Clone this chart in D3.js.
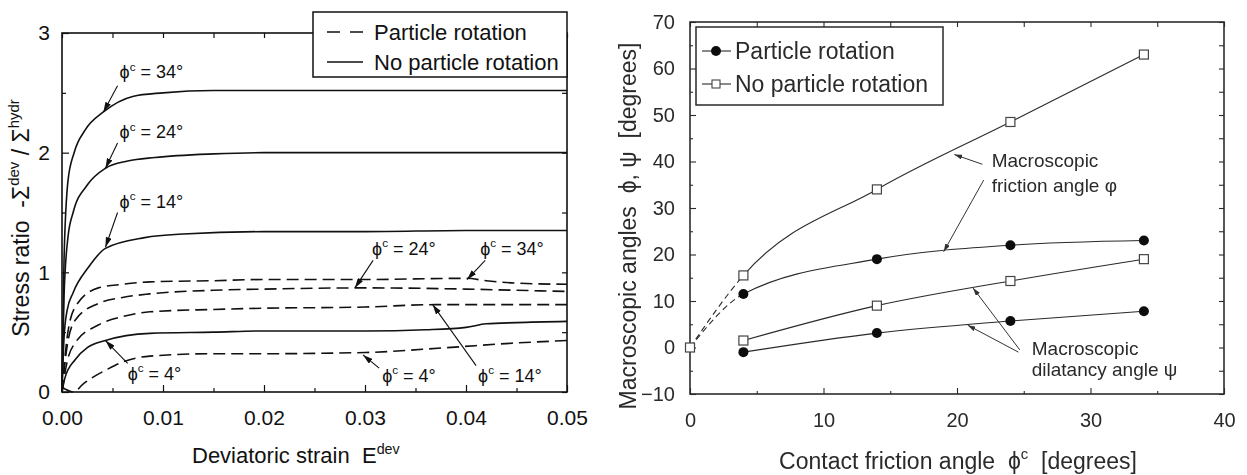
<!DOCTYPE html>
<html>
<head>
<meta charset="utf-8">
<script src="https://cdn.jsdelivr.net/npm/d3@7"></script>
<style>
  html, body { margin: 0; padding: 0; background: #fff; }
  svg { display: block; font-family: "Liberation Sans", Arial, Helvetica, sans-serif; }
  text { white-space: pre; }
</style>
</head>
<body>
<svg id="chart" width="1247" height="475"></svg>
<script>
// ===== Left panel: stress ratio vs deviatoric strain =====
const strainTicks = [0, 0.01, 0.02, 0.03, 0.04, 0.05];
const strainTickLabels = ["0.00", "0.01", "0.02", "0.03", "0.04", "0.05"];
const strainMinorTicks = [0.005, 0.015, 0.025, 0.035, 0.045];
const ratioTicks = [0, 1, 2, 3];
const ratioTickLabels = ["0", "1", "2", "3"];
const ratioMinorTicks = [0.5, 1.5, 2.5];

// No particle rotation (solid)
const solid34Strain = [0, 0.0002, 0.0006, 0.0012, 0.0023, 0.0041, 0.007, 0.01, 0.015, 0.02, 0.03, 0.04, 0.05];
const solid34Ratio  = [0, 1.10, 1.77, 2.00, 2.19, 2.34, 2.47, 2.50, 2.52, 2.52, 2.52, 2.52, 2.52];
const solid24Strain = [0, 0.0002, 0.0006, 0.0011, 0.0025, 0.0043, 0.0065, 0.0092, 0.015, 0.02, 0.03, 0.04, 0.05];
const solid24Ratio  = [0, 0.80, 1.30, 1.50, 1.73, 1.87, 1.93, 1.96, 1.99, 2.00, 2.00, 2.00, 2.00];
const solid14Strain = [0, 0.0002, 0.0005, 0.0011, 0.0026, 0.0043, 0.0082, 0.012, 0.02, 0.03, 0.04, 0.05];
const solid14Ratio  = [0, 0.45, 0.68, 0.83, 1.04, 1.20, 1.29, 1.32, 1.34, 1.34, 1.35, 1.35];
const solid4Strain  = [0, 0.0003, 0.0013, 0.0025, 0.0043, 0.0087, 0.015, 0.02, 0.03, 0.036, 0.04, 0.042, 0.045, 0.05];
const solid4Ratio   = [0, 0.12, 0.27, 0.37, 0.43, 0.49, 0.50, 0.51, 0.51, 0.52, 0.54, 0.57, 0.58, 0.59];

// Particle rotation (dashed)
const dashed34Strain = [0, 0.0005, 0.0013, 0.0036, 0.006, 0.0087, 0.015, 0.02, 0.03, 0.04, 0.042, 0.045, 0.05];
const dashed34Ratio  = [0, 0.45, 0.71, 0.87, 0.90, 0.92, 0.93, 0.94, 0.94, 0.95, 0.93, 0.91, 0.90];
const dashed24Strain = [0, 0.0005, 0.0013, 0.0036, 0.006, 0.0087, 0.015, 0.02, 0.03, 0.04, 0.045, 0.05];
const dashed24Ratio  = [0, 0.38, 0.60, 0.74, 0.79, 0.82, 0.85, 0.86, 0.87, 0.86, 0.85, 0.84];
const dashed14Strain = [0, 0.0005, 0.0013, 0.0036, 0.006, 0.0087, 0.015, 0.02, 0.03, 0.037, 0.04, 0.05];
const dashed14Ratio  = [0, 0.25, 0.41, 0.56, 0.63, 0.67, 0.69, 0.70, 0.71, 0.73, 0.73, 0.73];
const dashed4Strain  = [0, 0.0012, 0.002, 0.003, 0.0045, 0.006, 0.0087, 0.015, 0.02, 0.03, 0.038, 0.045, 0.05];
const dashed4Ratio   = [0.04, 0.0, 0.06, 0.12, 0.19, 0.25, 0.30, 0.32, 0.32, 0.33, 0.37, 0.41, 0.43];

// Curve labels: [degrees, strain, ratio] (baseline-left anchor)
const leftLabels = [
  ["34", 0.0057, 2.62], ["24", 0.0057, 2.12], ["14", 0.0057, 1.54], ["4", 0.0065, 0.10],
  ["24", 0.0307, 1.145], ["34", 0.0414, 1.145], ["4", 0.0317, 0.085], ["14", 0.0412, 0.085]
];
// Label arrows: [tailStrain, tailRatio, tipStrain, tipRatio]
const leftArrows = [
  [0.0055, 2.56, 0.0041, 2.34], [0.0055, 2.08, 0.0043, 1.87], [0.0055, 1.50, 0.0043, 1.21],
  [0.0065, 0.24, 0.0043, 0.43], [0.0308, 1.10, 0.0290, 0.87], [0.0419, 1.10, 0.0401, 0.94],
  [0.0314, 0.20, 0.0298, 0.31], [0.0410, 0.22, 0.0367, 0.73]
];

// ===== Right panel: macroscopic angles vs contact friction angle =====
const contactTicks = [0, 10, 20, 30, 40];
const contactMinorTicks = [5, 15, 25, 35];
const angleTicks = [-10, 0, 10, 20, 30, 40, 50, 60, 70];
const angleMinorTicks = [-5, 5, 15, 25, 35, 45, 55, 65];

const contactAngle = [0, 4, 14, 24, 34];
const frictionNoRot = [0, 15.5, 34, 48.5, 63];
const frictionRot   = [0, 11.5, 19, 22, 23];
const dilatancyAngle = [4, 14, 24, 34];
const dilatancyNoRot = [1.5, 9, 14.3, 19];
const dilatancyRot   = [-1, 3.1, 5.7, 7.8];

// Annotation text [line, contactAngle, angle]
const rightNotes = [
  ["Macroscopic", 22.6, 38.8], ["friction angle \u03c6", 22.6, 33.4],
  ["Macroscopic", 25.6, -1.6], ["dilatancy angle \u03c8", 25.6, -6.2]
];
// Annotation arrows [tailX, tailY, tipX, tipY]
const rightArrows = [
  [21.9, 39.4, 19.8, 41.5], [22.0, 36.0, 19.0, 20.6],
  [24.7, -0.5, 21.2, 12.8], [24.6, -1.0, 20.8, 4.8]
];

// ---------------------------------------------------------------
const svg = d3.select("#chart");
const defs = svg.append("defs");

function arrowMarker(id, color, len, wid) {
  defs.append("marker")
    .attr("id", id)
    .attr("viewBox", `0 0 ${len} ${wid}`)
    .attr("refX", len).attr("refY", wid / 2)
    .attr("markerWidth", len).attr("markerHeight", wid)
    .attr("markerUnits", "userSpaceOnUse")
    .attr("orient", "auto")
    .append("path")
    .attr("d", `M0,0L${len},${wid / 2}L0,${wid}Z`)
    .attr("fill", color);
}
arrowMarker("headL", "#111", 10, 6);
arrowMarker("headR", "#333", 8, 5);

// slight softening used on the right-hand figure
defs.append("filter").attr("id", "soft")
  .append("feGaussianBlur").attr("stdDeviation", 0.45);

// rich text helper: parts = [[string, "sup"|null], ...]
function rich(sel, parts, size) {
  parts.forEach(([str, kind], i) => {
    const t = sel.append("tspan").text(str);
    if (kind === "sup") {
      t.attr("font-size", size * 0.65).attr("dy", -size * 0.42);
    } else if (i > 0 && parts[i - 1][1] === "sup") {
      t.attr("dy", size * 0.42);
    }
  });
}
function stripDomain(g) { g.select(".domain").remove(); }

// ===== LEFT =====
const xL = d3.scaleLinear().domain([0, 0.05]).range([62, 567]);
const yL = d3.scaleLinear().domain([0, 3]).range([392, 33]);
const gL = svg.append("g");

const lineL = d3.line().x(d => xL(d[0])).y(d => yL(d[1])).curve(d3.curveMonotoneX);
const leftCurves = [
  [solid34Strain, solid34Ratio, false], [solid24Strain, solid24Ratio, false],
  [solid14Strain, solid14Ratio, false], [solid4Strain, solid4Ratio, false],
  [dashed34Strain, dashed34Ratio, true], [dashed24Strain, dashed24Ratio, true],
  [dashed14Strain, dashed14Ratio, true], [dashed4Strain, dashed4Ratio, true]
];
gL.selectAll("path.curve").data(leftCurves).join("path")
  .attr("class", "curve")
  .attr("d", d => lineL(d3.zip(d[0], d[1])))
  .attr("fill", "none")
  .attr("stroke", "#111")
  .attr("stroke-width", 1.6)
  .attr("stroke-dasharray", d => d[2] ? "12,6" : null);

// axes with inward ticks
gL.append("g").attr("transform", "translate(0,392)")
  .call(d3.axisBottom(xL).tickValues(strainTicks).tickFormat((d, i) => strainTickLabels[i]).tickSize(-7).tickPadding(18))
  .call(stripDomain);
gL.append("g").attr("transform", "translate(0,392)")
  .call(d3.axisBottom(xL).tickValues(strainMinorTicks).tickFormat("").tickSize(-4)).call(stripDomain);
gL.append("g").attr("transform", "translate(0,33)")
  .call(d3.axisTop(xL).tickValues(strainTicks.concat(strainMinorTicks)).tickFormat("").tickSize(-5)).call(stripDomain);
gL.append("g").attr("transform", "translate(62,0)")
  .call(d3.axisLeft(yL).tickValues(ratioTicks).tickFormat((d, i) => ratioTickLabels[i]).tickSize(-7).tickPadding(12))
  .call(stripDomain);
gL.append("g").attr("transform", "translate(62,0)")
  .call(d3.axisLeft(yL).tickValues(ratioMinorTicks).tickFormat("").tickSize(-4)).call(stripDomain);
gL.append("g").attr("transform", "translate(567,0)")
  .call(d3.axisRight(yL).tickValues(ratioTicks.concat(ratioMinorTicks)).tickFormat("").tickSize(-5)).call(stripDomain);
gL.selectAll(".tick text").attr("font-size", 21).attr("font-family", null).attr("fill", "#111");
gL.selectAll(".tick line").attr("stroke", "#111").attr("stroke-width", 1.2);

gL.append("rect")
  .attr("x", xL(0)).attr("y", yL(3))
  .attr("width", xL(0.05) - xL(0)).attr("height", yL(0) - yL(3))
  .attr("fill", "none").attr("stroke", "#111").attr("stroke-width", 1.6);

// curve labels
leftLabels.forEach(([deg, s, r]) => {
  const t = gL.append("text").attr("x", xL(s)).attr("y", yL(r))
    .attr("font-size", 18).attr("fill", "#111");
  rich(t, [["\u03d5", null], ["c", "sup"], [` = ${deg}\u00b0`, null]], 18);
});
gL.selectAll("line.arrow").data(leftArrows).join("line")
  .attr("class", "arrow")
  .attr("x1", d => xL(d[0])).attr("y1", d => yL(d[1]))
  .attr("x2", d => xL(d[2])).attr("y2", d => yL(d[3]))
  .attr("stroke", "#111").attr("stroke-width", 1.1)
  .attr("marker-end", "url(#headL)");

// legend
const legL = gL.append("g");
legL.append("rect").attr("x", 313).attr("y", 12).attr("width", 254).attr("height", 65)
  .attr("fill", "#fff").attr("stroke", "#111").attr("stroke-width", 1.5);
[["Particle rotation", true], ["No particle rotation", false]].forEach(([name, dashed], i) => {
  const cy = 32 + i * 30;
  legL.append("line").attr("x1", 327).attr("x2", 363).attr("y1", cy).attr("y2", cy)
    .attr("stroke", "#111").attr("stroke-width", 1.6).attr("stroke-dasharray", dashed ? "13,10" : null);
  legL.append("text").attr("x", 374).attr("y", cy + 8).attr("font-size", 22).attr("fill", "#111").text(name);
});

// axis titles
const xtL = gL.append("text").attr("x", 192).attr("y", 463).attr("font-size", 22).attr("fill", "#111");
rich(xtL, [["Deviatoric strain  E", null], ["dev", "sup"]], 22);
const ytL = gL.append("text").attr("transform", "translate(29,218) rotate(-90)")
  .attr("text-anchor", "middle").attr("font-size", 23).attr("fill", "#111");
rich(ytL, [["Stress ratio  -\u03a3", null], ["dev", "sup"], [" / \u03a3", null], ["hydr", "sup"]], 23);

// ===== RIGHT =====
const xR = d3.scaleLinear().domain([0, 40]).range([690, 1224]);
const yR = d3.scaleLinear().domain([-10, 70]).range([394, 22]);
const gR = svg.append("g").attr("filter", "url(#soft)");
const ink = "#2a2a2a";

const clipDash = defs.append("clipPath").attr("id", "clipDash");
clipDash.append("rect").attr("x", xR(0) - 5).attr("y", 0).attr("width", xR(4) - xR(0) + 5).attr("height", 475);
const clipSolid = defs.append("clipPath").attr("id", "clipSolid");
clipSolid.append("rect").attr("x", xR(4)).attr("y", 0).attr("width", 600).attr("height", 475);

const lineR = d3.line().x(d => xR(d[0])).y(d => yR(d[1])).curve(d3.curveMonotoneX);
[frictionNoRot, frictionRot].forEach(series => {
  const pts = d3.zip(contactAngle, series);
  gR.append("path").attr("d", lineR(pts)).attr("clip-path", "url(#clipDash)")
    .attr("fill", "none").attr("stroke", ink).attr("stroke-width", 1.1).attr("stroke-dasharray", "6,4");
  gR.append("path").attr("d", lineR(pts)).attr("clip-path", "url(#clipSolid)")
    .attr("fill", "none").attr("stroke", ink).attr("stroke-width", 1.1);
});
[dilatancyNoRot, dilatancyRot].forEach(series => {
  gR.append("path").attr("d", lineR(d3.zip(dilatancyAngle, series)))
    .attr("fill", "none").attr("stroke", ink).attr("stroke-width", 1.1);
});

// axes
gR.append("g").attr("transform", "translate(0,394)")
  .call(d3.axisBottom(xR).tickValues(contactTicks).tickSize(-6).tickPadding(19)).call(stripDomain);
gR.append("g").attr("transform", "translate(0,394)")
  .call(d3.axisBottom(xR).tickValues(contactMinorTicks).tickFormat("").tickSize(-3)).call(stripDomain);
gR.append("g").attr("transform", "translate(0,22)")
  .call(d3.axisTop(xR).tickValues(contactTicks.concat(contactMinorTicks)).tickFormat("").tickSize(-5)).call(stripDomain);
gR.append("g").attr("transform", "translate(690,0)")
  .call(d3.axisLeft(yR).tickValues(angleTicks).tickSize(-6).tickPadding(15)).call(stripDomain);
gR.append("g").attr("transform", "translate(690,0)")
  .call(d3.axisLeft(yR).tickValues(angleMinorTicks).tickFormat("").tickSize(-3)).call(stripDomain);
gR.append("g").attr("transform", "translate(1224,0)")
  .call(d3.axisRight(yR).tickValues(angleTicks.concat(angleMinorTicks)).tickFormat("").tickSize(-5)).call(stripDomain);
gR.selectAll(".tick text").attr("font-size", 20).attr("font-family", null).attr("fill", ink);
gR.selectAll(".tick line").attr("stroke", ink).attr("stroke-width", 1.1);

gR.append("rect")
  .attr("x", xR(0)).attr("y", yR(70))
  .attr("width", xR(40) - xR(0)).attr("height", yR(-10) - yR(70))
  .attr("fill", "none").attr("stroke", ink).attr("stroke-width", 1.6);

// markers
function squares(xs, ys) {
  gR.selectAll(null).data(d3.zip(xs, ys)).join("rect")
    .attr("x", d => xR(d[0]) - 4.5).attr("y", d => yR(d[1]) - 4.5)
    .attr("width", 9).attr("height", 9)
    .attr("fill", "#fff").attr("stroke", "#444").attr("stroke-width", 1.2);
}
function dots(xs, ys) {
  gR.selectAll(null).data(d3.zip(xs, ys)).join("circle")
    .attr("cx", d => xR(d[0])).attr("cy", d => yR(d[1])).attr("r", 5)
    .attr("fill", "#111");
}
dots(contactAngle.slice(1), frictionRot.slice(1));
dots(dilatancyAngle, dilatancyRot);
squares(contactAngle, frictionNoRot);
squares(dilatancyAngle, dilatancyNoRot);

// annotations
rightNotes.forEach(([str, a, b]) => {
  gR.append("text").attr("x", xR(a)).attr("y", yR(b)).attr("font-size", 19).attr("fill", ink).text(str);
});
gR.selectAll("line.arrow").data(rightArrows).join("line")
  .attr("class", "arrow")
  .attr("x1", d => xR(d[0])).attr("y1", d => yR(d[1]))
  .attr("x2", d => xR(d[2])).attr("y2", d => yR(d[3]))
  .attr("stroke", "#333").attr("stroke-width", 1)
  .attr("marker-end", "url(#headR)");

// legend
const legR = gR.append("g");
legR.append("rect").attr("x", 696).attr("y", 27).attr("width", 247).attr("height", 78)
  .attr("fill", "#fff").attr("stroke", ink).attr("stroke-width", 1.5);
[["Particle rotation", "dot"], ["No particle rotation", "square"]].forEach(([name, kind], i) => {
  const cy = 51 + i * 33;
  legR.append("line").attr("x1", 702).attr("x2", 731).attr("y1", cy).attr("y2", cy)
    .attr("stroke", ink).attr("stroke-width", 1.1);
  if (kind === "dot") {
    legR.append("circle").attr("cx", 716).attr("cy", cy).attr("r", 5).attr("fill", "#111");
  } else {
    legR.append("rect").attr("x", 712).attr("y", cy - 4).attr("width", 8).attr("height", 8)
      .attr("fill", "#fff").attr("stroke", "#444").attr("stroke-width", 1.1);
  }
  legR.append("text").attr("x", 735).attr("y", cy + 8).attr("font-size", 23).attr("fill", ink).text(name);
});

// axis titles
const xtR = gR.append("text").attr("x", 958).attr("y", 469).attr("text-anchor", "middle")
  .attr("font-size", 23).attr("fill", ink);
rich(xtR, [["Contact friction angle  \u03d5", null], ["c", "sup"], ["  [degrees]", null]], 23);
gR.append("text").attr("transform", "translate(636,226) rotate(-90)")
  .attr("text-anchor", "middle").attr("font-size", 23).attr("fill", ink)
  .text("Macroscopic angles  \u03d5, \u03c8  [degrees]");
</script>
</body>
</html>
